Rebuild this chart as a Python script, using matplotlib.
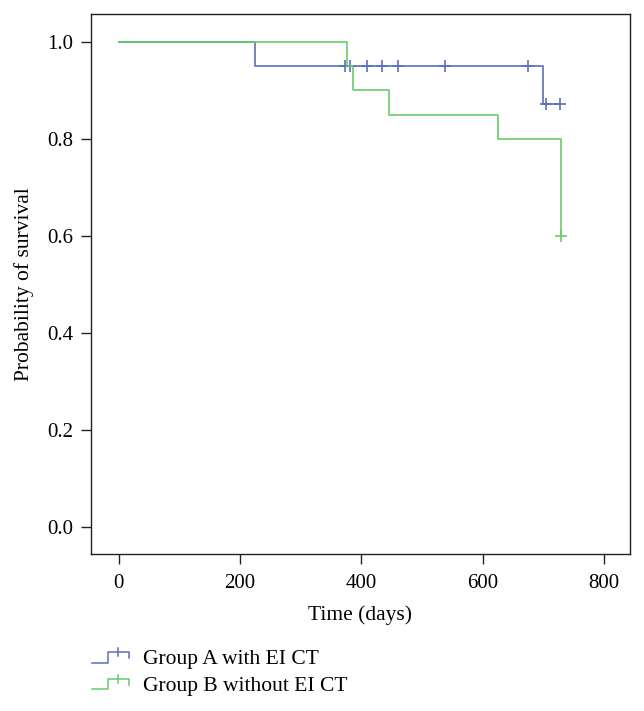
import numpy as np
import matplotlib.pyplot as plt
from matplotlib.legend_handler import HandlerBase
from matplotlib.lines import Line2D

# Kaplan-Meier steps (days, survival probability)
group_a_times = [0, 225, 700, 728]
group_a_surv = [1.0, 0.95, 0.872, 0.872]
group_a_censored = [374, 381, 410, 434, 460, 538, 675, 705, 728]

group_b_times = [0, 376, 387, 446, 626, 729]
group_b_surv = [1.0, 0.95, 0.90, 0.85, 0.80, 0.60]
group_b_censored = [729]

labels = ["Group A with EI CT", "Group B without EI CT"]
x_ticks = [0, 200, 400, 600, 800]
y_ticks = [0.0, 0.2, 0.4, 0.6, 0.8, 1.0]

color_a = "#5b6fbf"
color_b = "#6acb6d"


def surv_at(times, surv, t):
    # step function value (right-continuous)
    idx = np.searchsorted(times, t, side="right") - 1
    return np.asarray(surv)[idx]


class StepHandler(HandlerBase):
    # little KM-style step with a censor tick, as in the legend
    def create_artists(self, legend, orig_handle, xdescent, ydescent,
                       width, height, fontsize, trans):
        c = orig_handle.get_color()
        xs = np.array([0, 0.45, 0.45, 1.0, 1.0]) * width - xdescent
        ys = np.array([0.1, 0.1, 0.8, 0.8, 0.4]) * height - ydescent
        step = Line2D(xs, ys, color=c, lw=1.1, transform=trans)
        tick = Line2D([0.72 * width - xdescent] * 2,
                      [0.55 * height - ydescent, 1.05 * height - ydescent],
                      color=c, lw=1.1, transform=trans)
        return [step, tick]


plt.rcParams['font.family'] = ['Liberation Serif', 'DejaVu Serif']

fig = plt.figure(figsize=(6.44, 7.11), dpi=100)
ax = fig.add_axes([0.1413, 0.2204, 0.8367, 0.7595])

series = [
    (group_a_times, group_a_surv, group_a_censored, color_a, labels[0], 3),
    (group_b_times, group_b_surv, group_b_censored, color_b, labels[1], 4),
]
handles = []
for times, surv, cens, col, lab, z in series:
    t_end = max(max(times), max(cens))
    xs = list(times) + [t_end]
    ys = list(surv) + [surv[-1]]
    h, = ax.step(xs, ys, where="post", color=col, lw=1.2, zorder=z, label=lab)
    ax.plot(cens, surv_at(times, surv, cens), linestyle="none", marker="+",
            markersize=8, markeredgewidth=1.2, color=col, zorder=z)
    handles.append(h)

ax.set_xlim(-45.6, 842.9)
ax.set_ylim(-0.056, 1.057)
ax.set_xticks(x_ticks)
ax.set_yticks(y_ticks)
ax.set_yticklabels([f"{v:.1f}" for v in y_ticks])
ax.tick_params(direction="out", length=7.5, width=1.0, labelsize=15,
               color="#222222")
ax.tick_params(axis="x", pad=6.5)
ax.tick_params(axis="y", pad=5.5)
for sp in ax.spines.values():
    sp.set_linewidth(1.0)
    sp.set_color("#222222")

ax.set_xlabel("Time (days)", fontsize=15.5, labelpad=9)
ax.set_ylabel("Probability of survival", fontsize=15.5, labelpad=9)

fig.legend(handles, labels, loc="upper left", bbox_to_anchor=(0.129, 0.099),
           frameon=False, fontsize=15.5, handlelength=1.72, handletextpad=0.65,
           labelspacing=0.3, borderaxespad=0,
           handler_map={Line2D: StepHandler()})

fig.savefig("out.png", dpi=100, facecolor="white")
